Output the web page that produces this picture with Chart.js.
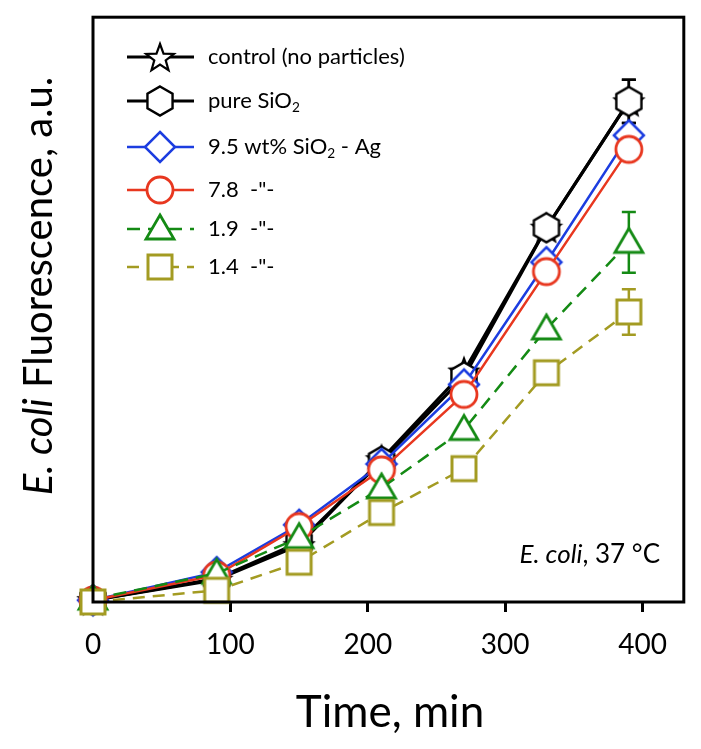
<!DOCTYPE html>
<html>
<head>
<meta charset="utf-8">
<script src="https://cdn.jsdelivr.net/npm/chart.js@4"></script>
<style>html,body{margin:0;padding:0;background:#fff;}canvas{display:block;}</style>
</head>
<body>
<canvas id="c" width="701" height="749"></canvas>
<script>
// ---- data ----
const times = [0, 90, 150, 210, 270, 330, 390];
const xTicks = [0, 100, 200, 300, 400];
const control  = [0.3, 3.8, 9.7, 24.4, 39.4, 64.0, 85.6];
const pureSiO2 = [0.3, 4.0, 10.2, 24.1, 38.5, 64.0, 85.6];
const ag95     = [0.3, 5.1, 13.2, 23.6, 37.2, 58.1, 79.8];
const ag78     = [0.3, 4.6, 12.9, 22.6, 35.5, 56.5, 77.4];
const ag19     = [0.5, 4.9, 11.0, 19.5, 29.5, 46.7, 61.5];
const ag14     = [0.0, 2.0, 6.8, 15.3, 22.8, 39.2, 49.6];
const errControl = [0, 0, 0, 0, 0, 0, 3.7];
const errPure    = [0, 0, 0, 0, 0, 0, 3.7];
const err19      = [0, 0, 0, 0, 0, 0, 5.2];
const err14      = [0, 0, 0, 0, 0, 0, 3.9];
const labels = ['control (no particles)', 'pure SiO2', '9.5 wt% SiO2 - Ag', '7.8  -"-', '1.9  -"-', '1.4  -"-'];

const FONT = 'Lato, "Open Sans", sans-serif';
const C = {black:'#000000', blue:'#1c3de0', red:'#e8371f', green:'#148a14', olive:'#a39b22'};

function shapePath(ctx, shape, x, y) {
  ctx.beginPath();
  if (shape === 'star') {
    const R = 14.5, r = 6;
    for (let k = 0; k < 10; k++) {
      const a = -Math.PI/2 + k*Math.PI/5, rr = k%2 ? r : R;
      const px = x + rr*Math.cos(a), py = y + rr*Math.sin(a) + 1.5;
      k ? ctx.lineTo(px, py) : ctx.moveTo(px, py);
    }
  } else if (shape === 'hex') {
    const R = 14.5;
    for (let k = 0; k < 6; k++) {
      const a = -Math.PI/2 + k*Math.PI/3;
      const px = x + R*Math.cos(a), py = y + R*Math.sin(a);
      k ? ctx.lineTo(px, py) : ctx.moveTo(px, py);
    }
  } else if (shape === 'diamond') {
    const h = 15;
    ctx.moveTo(x, y-h); ctx.lineTo(x+h, y); ctx.lineTo(x, y+h); ctx.lineTo(x-h, y);
  } else if (shape === 'circle') {
    ctx.arc(x, y, 13, 0, Math.PI*2);
  } else if (shape === 'tri') {
    ctx.moveTo(x, y-14); ctx.lineTo(x+14, y+10); ctx.lineTo(x-14, y+10);
  } else if (shape === 'square') {
    const h = 12;
    ctx.rect(x-h, y-h, 2*h, 2*h);
  }
  ctx.closePath();
}
function drawMarker(ctx, shape, color, x, y, lw) {
  ctx.save();
  ctx.setLineDash([]);
  shapePath(ctx, shape, x, y);
  ctx.fillStyle = '#fff'; ctx.fill();
  ctx.strokeStyle = color; ctx.lineWidth = lw; ctx.lineJoin = 'miter'; ctx.stroke();
  ctx.restore();
}
function makeMarker(shape, color, lw) {
  const cv = document.createElement('canvas');
  cv.width = 40; cv.height = 40;
  drawMarker(cv.getContext('2d'), shape, color, 20, 20, lw);
  return cv;
}

const series = [
  {label: labels[0], data: control,  err: errControl, color: C.black, shape: 'star',    lw: 3.2, dash: [],       mlw: 2.2, order: 6},
  {label: labels[1], data: pureSiO2, err: errPure,    color: C.black, shape: 'hex',     lw: 3.2, dash: [],       mlw: 2.4, order: 5},
  {label: labels[2], data: ag95,     err: null,       color: C.blue,  shape: 'diamond', lw: 2.5, dash: [],       mlw: 2.5, order: 4},
  {label: labels[3], data: ag78,     err: null,       color: C.red,   shape: 'circle',  lw: 2.5, dash: [],       mlw: 2.8, order: 3},
  {label: labels[4], data: ag19,     err: err19,      color: C.green, shape: 'tri',     lw: 2.5, dash: [13, 8],  mlw: 2.8, order: 2},
  {label: labels[5], data: ag14,     err: err14,      color: C.olive, shape: 'square',  lw: 2.5, dash: [12, 8],  mlw: 3,   order: 1}
];

const datasets = series.map(s => ({
  label: s.label,
  data: times.map((t, i) => ({x: t, y: s.data[i]})),
  borderColor: s.color,
  borderWidth: s.lw,
  borderDash: s.dash,
  backgroundColor: '#fff',
  pointStyle: makeMarker(s.shape, s.color, s.mlw),
  pointRadius: 14,
  pointHoverRadius: 14,
  tension: 0,
  fill: false,
  clip: false,
  order: s.order
}));

function drawRuns(ctx, x, y, runs, size) {
  let cx = x;
  for (const r of runs) {
    const sz = r.sub ? size*0.62 : size;
    ctx.font = (r.italic ? 'italic ' : '') + sz + 'px ' + FONT;
    ctx.fillText(r.t, cx, y + (r.sub ? size*0.28 : 0));
    cx += ctx.measureText(r.t).width;
  }
  return cx - x;
}
function runsWidth(ctx, runs, size) {
  let w = 0;
  for (const r of runs) {
    const sz = r.sub ? size*0.62 : size;
    ctx.font = (r.italic ? 'italic ' : '') + sz + 'px ' + FONT;
    w += ctx.measureText(r.t).width;
  }
  return w;
}

const legendRuns = [
  [{t:'control (no particles)'}],
  [{t:'pure SiO'}, {t:'2', sub:true}],
  [{t:'9.5 wt% SiO'}, {t:'2', sub:true}, {t:' - Ag'}],
  [{t:'7.8  -"-'}],
  [{t:'1.9  -"-'}],
  [{t:'1.4  -"-'}]
];
const legendRows = [57, 101, 147, 190, 229, 267];

const custom = {
  id: 'custom',
  beforeDatasetDraw(chart, args) {
    const s = series[args.index];
    if (!s.err) return;
    const ctx = chart.ctx, xs = chart.scales.x, ys = chart.scales.y;
    ctx.save();
    ctx.strokeStyle = s.color; ctx.lineWidth = 2.5; ctx.setLineDash([]);
    s.err.forEach((e, i) => {
      if (!e) return;
      const x = xs.getPixelForValue(times[i]);
      const y1 = ys.getPixelForValue(s.data[i] + e), y2 = ys.getPixelForValue(s.data[i] - e);
      ctx.beginPath();
      ctx.moveTo(x, y1); ctx.lineTo(x, y2);
      ctx.moveTo(x-7, y1); ctx.lineTo(x+7, y1);
      ctx.moveTo(x-7, y2); ctx.lineTo(x+7, y2);
      ctx.stroke();
    });
    ctx.restore();
  },
  afterDraw(chart) {
    const ctx = chart.ctx, a = chart.chartArea;
    ctx.save();
    // frame
    ctx.strokeStyle = '#000'; ctx.lineWidth = 3; ctx.setLineDash([]);
    ctx.strokeRect(a.left, a.top, a.right - a.left, a.bottom - a.top);
    // legend
    ctx.fillStyle = '#000'; ctx.textBaseline = 'middle'; ctx.textAlign = 'left';
    series.forEach((s, i) => {
      const y = legendRows[i];
      ctx.save();
      ctx.strokeStyle = s.color; ctx.lineWidth = s.lw; ctx.setLineDash(s.dash);
      ctx.beginPath(); ctx.moveTo(127, y); ctx.lineTo(194, y); ctx.stroke();
      ctx.restore();
      drawMarker(ctx, s.shape, s.color, 160, y, s.mlw);
      ctx.fillStyle = '#000';
      drawRuns(ctx, 208, y, legendRuns[i], 22);
    });
    // annotation
    const ann = [{t:'E. coli', italic:true}, {t:', 37 °C'}];
    const aw = runsWidth(ctx, ann, 26);
    drawRuns(ctx, 660 - aw, 555, ann, 26);
    // x title
    const xt = [{t:'Time, min'}];
    const xw = runsWidth(ctx, xt, 44);
    drawRuns(ctx, 390 - xw/2, 713, xt, 44);
    // y title
    ctx.textBaseline = 'alphabetic';
    ctx.translate(52, 286);
    ctx.rotate(-Math.PI/2);
    const yt = [{t:'E. coli', italic:true}, {t:' Fluorescence, a.u.'}];
    const yw = runsWidth(ctx, yt, 40);
    drawRuns(ctx, -yw/2, 0, yt, 40);
    ctx.restore();
  }
};

new Chart(document.getElementById('c'), {
  type: 'line',
  data: {datasets},
  plugins: [custom],
  options: {
    responsive: false,
    animation: false,
    events: [],
    layout: {padding: {top: 13, right: 15, left: 0, bottom: 0}},
    plugins: {legend: {display: false}, tooltip: {enabled: false}},
    scales: {
      x: {
        type: 'linear', min: 0, max: 430,
        afterFit(scale) { scale.height = 147; },
        afterBuildTicks(scale) { scale.ticks = xTicks.map(v => ({value: v})); },
        ticks: {color: '#000', font: {family: FONT, size: 28}, padding: 16, includeBounds: false},
        grid: {display: true, drawOnChartArea: false, drawTicks: true, tickLength: 10, lineWidth: 3, color: '#000'},
        border: {display: false}
      },
      y: {
        type: 'linear', min: 0, max: 100,
        afterFit(scale) { scale.width = 93; },
        ticks: {display: false},
        grid: {display: false, drawTicks: false},
        border: {display: false}
      }
    }
  }
});
</script>
</body>
</html>
